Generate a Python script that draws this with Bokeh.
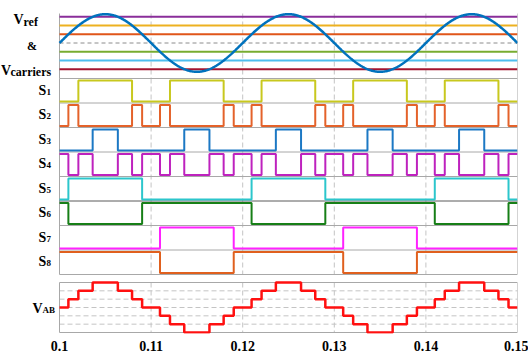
import numpy as np
from bokeh.plotting import figure
from bokeh.models import Range1d, Label, FixedTicker
from bokeh.embed import file_html
from bokeh.resources import INLINE

# ------------------------- data -------------------------
T_START, T_END = 0.1, 0.15
x_ticks = [0.1, 0.11, 0.12, 0.13, 0.14, 0.15]
x_tick_labels = ["0.1", "0.11", "0.12", "0.13", "0.14", "0.15"]
grid_x = [0.11, 0.12, 0.13, 0.14]

vref_amplitude = 3.3
vref_freq = 50.0
carrier_levels = [3, 2, 1, 0, -1, -2, -3]
carrier_colors = ["#8A2E9A", "#EDB120", "#E0561A", "#8C8C8C", "#77AC30", "#4DBEEE", "#A2142F"]
carrier_dash = ["solid", "solid", "solid", "4 3", "solid", "solid", "solid"]

vab_times = [0.10097, 0.10206, 0.10362, 0.10637, 0.10792, 0.10902,
             0.11097, 0.11206, 0.11362, 0.11637, 0.11792, 0.11902,
             0.12097, 0.12206, 0.12362, 0.12637, 0.12792, 0.12902,
             0.13097, 0.13206, 0.13362, 0.13637, 0.13792, 0.13902,
             0.14097, 0.14206, 0.14362, 0.14637, 0.14792, 0.14902]
vab_levels = [0, 1, 2, 3, 2, 1, 0, -1, -2, -3, -2, -1, 0,
              1, 2, 3, 2, 1, 0, -1, -2, -3, -2, -1, 0,
              1, 2, 3, 2, 1, 0]
vab_grid_levels = [-2, -1, 0, 1, 2]

s_names = ["1", "2", "3", "4", "5", "6", "7", "8"]
s_initial = [0, 0, 0, 1, 0, 1, 0, 1]
s1_toggles = [0.10206, 0.10792, 0.11206, 0.11792, 0.12206, 0.12792, 0.13206, 0.13792, 0.14206, 0.14792]
s2_toggles = [0.10097, 0.10206, 0.10792, 0.10902, 0.11097, 0.11206, 0.11792, 0.11902,
              0.12097, 0.12206, 0.12792, 0.12902, 0.13097, 0.13206, 0.13792, 0.13902,
              0.14097, 0.14206, 0.14792, 0.14902]
s3_toggles = [0.10362, 0.10637, 0.11362, 0.11637, 0.12362, 0.12637, 0.13362, 0.13637, 0.14362, 0.14637]
s4_toggles = [0.10097, 0.10206, 0.10362, 0.10637, 0.10792, 0.10902,
              0.11097, 0.11206, 0.11362, 0.11637, 0.11792, 0.11902,
              0.12097, 0.12206, 0.12362, 0.12637, 0.12792, 0.12902,
              0.13097, 0.13206, 0.13362, 0.13637, 0.13792, 0.13902,
              0.14097, 0.14206, 0.14362, 0.14637, 0.14792, 0.14902]
s5_toggles = [0.10097, 0.10902, 0.12097, 0.12902, 0.14097, 0.14902]
s6_toggles = [0.10097, 0.10902, 0.12097, 0.12902, 0.14097, 0.14902]
s7_toggles = [0.11097, 0.11902, 0.13097, 0.13902]
s8_toggles = [0.11097, 0.11902, 0.13097, 0.13902]
s_toggles = [s1_toggles, s2_toggles, s3_toggles, s4_toggles,
             s5_toggles, s6_toggles, s7_toggles, s8_toggles]
s_colors = ["#C8C81E", "#E4622A", "#1C78C4", "#BE22BE", "#2CC6CC", "#177F17", "#FF22FF", "#E0601E"]

# ------------------------- layout (page pixels, y downwards) -------------------------
TOP_Y0, TOP_Y1, TOP_ZERO, TOP_UNIT = 13.0, 78.0, 42.5, 8.73
BAND_Y0, BAND_H = 78.0, 24.5
VAB_Y0, VAB_Y1, VAB_ZERO, VAB_UNIT = 282.0, 332.0, 307.0, 8.33
PLOT_LEFT, PLOT_RIGHT = 59.0, 517.0      # page x of t=0.1 and t=0.15
FIG_W, FIG_H, FRAME_BOTTOM = 528, 356, 333
FONT = "Liberation Serif"
BORDER = "#A8A8A8"
GRID = "#C4C4C4"

units_per_px = (T_END - T_START) / (PLOT_RIGHT - PLOT_LEFT)
x_lo = T_START - PLOT_LEFT * units_per_px

p = figure(width=FIG_W, height=FIG_H, x_range=Range1d(x_lo, T_END),
           y_range=Range1d(FRAME_BOTTOM, 0), output_backend="svg", toolbar_location=None,
           y_axis_type=None, min_border_left=0, min_border_right=int(FIG_W - PLOT_RIGHT),
           min_border_top=0, min_border_bottom=FIG_H - FRAME_BOTTOM)
p.outline_line_color = None
p.xgrid.visible = False
p.ygrid.visible = False
p.background_fill_color = "white"
p.border_fill_color = "white"

ax = p.xaxis[0]
ax.ticker = FixedTicker(ticks=x_ticks)
ax.major_label_overrides = {t: lab for t, lab in zip(x_ticks, x_tick_labels)}
ax.axis_line_color = None
ax.major_tick_line_color = None
ax.minor_tick_line_color = None
ax.major_tick_out = 0
ax.major_tick_in = 0
ax.major_label_standoff = 7
ax.major_label_text_font = FONT
ax.major_label_text_font_style = "bold"
ax.major_label_text_font_size = "14px"
ax.major_label_text_color = "black"

# vertical dashed grid per panel
panels = [(TOP_Y0, TOP_Y1), (BAND_Y0, BAND_Y0 + 8 * BAND_H), (VAB_Y0, VAB_Y1)]
for (y0, y1) in panels:
    p.segment(x0=grid_x, y0=[y0] * len(grid_x), x1=grid_x, y1=[y1] * len(grid_x),
              line_color=GRID, line_width=1, line_dash="5 3")

# VAB horizontal dashed grid
gy = [VAB_ZERO - VAB_UNIT * lv for lv in vab_grid_levels]
p.segment(x0=[T_START] * len(gy), y0=gy, x1=[T_END] * len(gy), y1=gy,
          line_color=GRID, line_width=1, line_dash="5 3")

# panel borders
for (y0, y1) in panels:
    p.segment(x0=[T_START, T_END], y0=[y0, y0], x1=[T_START, T_END], y1=[y1, y1],
              line_color=BORDER, line_width=1)
sep_y = [BAND_Y0 + BAND_H * i for i in range(9)]
sep_col = [BORDER] * 9
sep_col[5] = "#5A5A5A"
p.segment(x0=[T_START] * 9, y0=sep_y, x1=[T_END] * 9, y1=sep_y, line_color=sep_col, line_width=1)
p.segment(x0=[T_START, T_START], y0=[VAB_Y0, VAB_Y1], x1=[T_END, T_END], y1=[VAB_Y0, VAB_Y1],
          line_color=BORDER, line_width=1)

# carriers
for lv, col, dash in zip(carrier_levels, carrier_colors, carrier_dash):
    y = TOP_ZERO - TOP_UNIT * lv
    p.line([T_START, T_END], [y, y], line_color=col, line_width=2 if dash == "solid" else 1,
           line_dash=dash)

# reference sine
t = np.linspace(T_START, T_END, 800)
vref = vref_amplitude * np.sin(2 * np.pi * vref_freq * (t - T_START))
p.line(t, TOP_ZERO - TOP_UNIT * vref, line_color="#0072BD", line_width=2.5)

# switching signals
for i, (init, tog, col) in enumerate(zip(s_initial, s_toggles, s_colors)):
    xs, st = [T_START], [init]
    s = init
    for tt in tog:
        s = 1 - s
        xs.append(tt)
        st.append(s)
    xs.append(T_END)
    st.append(s)
    top = BAND_Y0 + BAND_H * i
    ys = [top + 2.0 + (1 - v) * (BAND_H - 3.5) for v in st]
    p.step(xs, ys, mode="after", line_color=col, line_width=2)

# VAB
vx = [T_START] + vab_times + [T_END]
vy = [VAB_ZERO - VAB_UNIT * lv for lv in vab_levels] + [VAB_ZERO - VAB_UNIT * vab_levels[-1]]
p.step(vx, vy, mode="after", line_color="#FF1010", line_width=2.5)


def add_label(text, x_page, y_page, size, align="left"):
    p.add_layout(Label(x=x_page, y=y_page, x_units="screen", y_units="data",
                       text=text, text_font=FONT, text_font_style="bold",
                       text_font_size=f"{size}px", text_color="black",
                       text_align=align, text_baseline="alphabetic"))


add_label("V", 13, 18.5, 14)
add_label("ref", 23, 21, 12)
add_label("&", 31.5, 45.5, 12, align="center")
add_label("V", 0.5, 70, 14)
add_label("carriers", 10, 71, 12)
for i, nm in enumerate(s_names):
    base = BAND_Y0 + BAND_H * i + 11.5
    add_label("S", 38, base, 14)
    add_label(nm, 46, base + 1.5, 9)
add_label("V", 32, 307.5, 14)
add_label("AB", 42, 309, 9)

open("out.html", "w").write(file_html(p, INLINE))
